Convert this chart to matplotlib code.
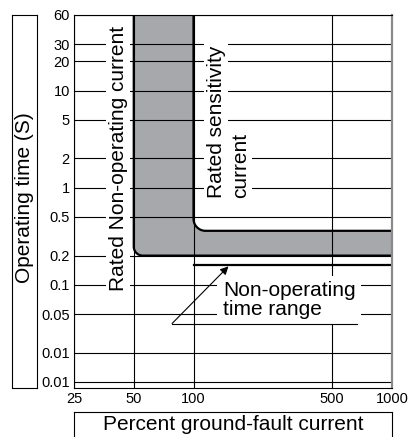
import numpy as np
import matplotlib
matplotlib.use('Agg')
import matplotlib.pyplot as plt
from matplotlib.ticker import NullLocator

plt.rcParams['font.family'] = ['Liberation Sans', 'DejaVu Sans']

# axis ticks (percent current / seconds)
x_ticks = [25, 50, 100, 500, 1000]
x_labels = ['25', '50', '100', '500', '1000']
y_ticks = [60, 30, 20, 10, 5, 2, 1, 0.5, 0.2, 0.1, 0.05, 0.02, 0.01]
y_labels = ['60', '30', '20', '10', '5', '2', '1', '0.5', '0.2', '0.1', '0.05', '0.01', '0.01']

# characteristic curve
rated_non_operating = 50      # % current
rated_sensitivity = 100       # % current
outer_time = 0.2              # s, lower edge of band
inner_time = 0.36             # s, upper edge of band
non_operating_time = 0.16     # s

x_min, x_max = 25, 1000
y_min, y_max = 0.00867, 60

W, H = 408, 437
fig = plt.figure(figsize=(W / 100, H / 100), dpi=100)
ax = fig.add_axes([74 / W, 1 - 388 / H, 318 / W, 373 / H])
ax.set_xscale('log')
ax.set_yscale('log')
ax.set_xlim(x_min, x_max)
ax.set_ylim(y_min, y_max)
ax.set_xticks(x_ticks)
ax.set_xticklabels(x_labels)
ax.set_yticks(y_ticks)
ax.set_yticklabels(y_labels)
ax.xaxis.set_minor_locator(NullLocator())
ax.yaxis.set_minor_locator(NullLocator())
ax.tick_params(length=0, labelsize=10.5)
ax.tick_params(axis='x', pad=3)
ax.tick_params(axis='y', pad=3)
ax.grid(True, color='black', lw=0.8)
for s in ['left', 'top', 'bottom']:
    ax.spines[s].set_linewidth(0.8)
ax.spines['right'].set_color('#8a8a8a')
ax.spines['right'].set_linewidth(1.6)


def corner_line(x_c, y_c, r_px):
    # vertical from top down to y_c, rounded corner, then right to x_max
    T = ax.transData
    top = T.transform((x_c, y_max))
    c = T.transform((x_c, y_c))
    end = T.transform((x_max, y_c))
    ang = np.linspace(np.pi, 1.5 * np.pi, 20)
    arc = np.column_stack([c[0] + r_px + r_px * np.cos(ang),
                           c[1] + r_px + r_px * np.sin(ang)])
    pts = np.vstack([top, arc, end])
    return T.inverted().transform(pts)


outer = corner_line(rated_non_operating, outer_time, 9)
inner = corner_line(rated_sensitivity, inner_time, 12)
band = np.vstack([outer, inner[::-1]])
ax.fill(band[:, 0], band[:, 1], color='#a7a8ab', lw=0, zorder=1)
ax.plot(outer[:, 0], outer[:, 1], color='black', lw=1.6, zorder=2)
ax.plot(inner[:, 0], inner[:, 1], color='black', lw=1.6, zorder=2)
ax.plot([rated_sensitivity, x_max], [non_operating_time, non_operating_time],
        color='black', lw=1.6, zorder=2)

# labels inside the plot
wbox = dict(fc='white', ec='none', pad=2)
ax.text(41.7, 2.0, 'Rated Non-operating current', rotation=90, fontsize=15,
        ha='center', va='center', bbox=wbox, zorder=3)
ax.text(130, 0.79, 'Rated sensitivity', rotation=90, fontsize=15,
        ha='center', va='bottom', bbox=wbox, zorder=3)
ax.text(172, 0.79, 'current', rotation=90, fontsize=15,
        ha='center', va='bottom', bbox=wbox, zorder=3)
ax.text(141, 0.07, 'Non-operating\ntime range', fontsize=15, ha='left',
        va='center', linespacing=0.95, bbox=dict(fc='white', ec='none', pad=4),
        zorder=3)
ax.annotate('', xy=(150, 0.155), xytext=(78, 0.04),
            arrowprops=dict(arrowstyle='-|>', color='black', lw=0.8,
                            shrinkA=0, shrinkB=0, mutation_scale=12),
            zorder=4)
ax.plot([78, 670], [0.04, 0.04], color='black', lw=0.8, zorder=4)

# boxed axis titles
yl = fig.add_axes([12 / W, 1 - 388 / H, 25 / W, 373 / H])
yl.set_xticks([])
yl.set_yticks([])
for s in yl.spines.values():
    s.set_linewidth(0.8)
yl.text(0.5, 0.51, 'Operating time (S)', rotation=90, fontsize=15,
        ha='center', va='center', transform=yl.transAxes)

xl = fig.add_axes([74 / W, 0, 318 / W, 25 / H])
xl.set_xticks([])
xl.set_yticks([])
xl.spines['bottom'].set_visible(False)
for s in xl.spines.values():
    s.set_linewidth(0.8)
xl.text(0.5, 0.5, 'Percent ground-fault current', fontsize=15,
        ha='center', va='center', transform=xl.transAxes)

fig.savefig('out.png', dpi=100)
